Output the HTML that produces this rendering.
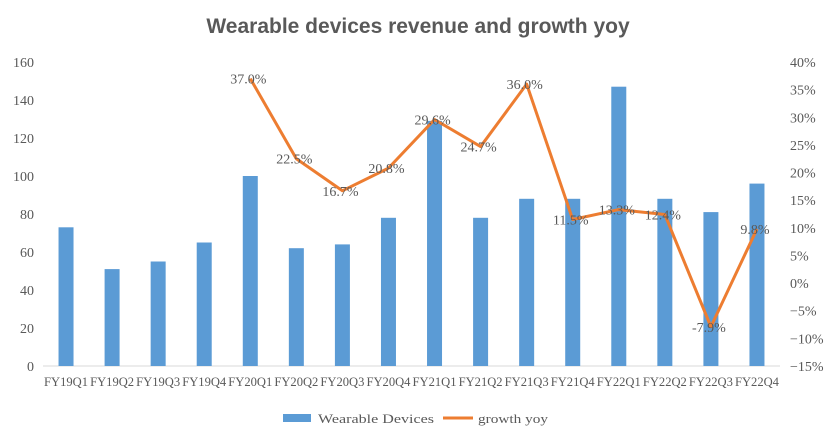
<!DOCTYPE html>
<html><head><meta charset="utf-8"><style>
body{margin:0;background:#fff;}
svg text{font-family:"Liberation Serif","Noto Serif CJK SC",serif;fill:#595959;}
</style></head><body>
<svg width="830" height="441" xmlns="http://www.w3.org/2000/svg">
<text x="418" y="33" text-anchor="middle" style="font-family:'Liberation Sans',sans-serif;font-weight:bold;font-size:21px;fill:#595959">Wearable devices revenue and growth yoy</text>
<g id="g"></g>
</svg>
<script>
const categories=["FY19Q1","FY19Q2","FY19Q3","FY19Q4","FY20Q1","FY20Q2","FY20Q3","FY20Q4","FY21Q1","FY21Q2","FY21Q3","FY21Q4","FY22Q1","FY22Q2","FY22Q3","FY22Q4"];
const revenue=[73,51,55,65,100,62,64,78,129,78,88,88,147,88,81,96];
const growth=[null,null,null,null,37.0,22.5,16.7,20.8,29.6,24.7,36.0,11.5,13.3,12.4,-7.9,9.8];
const leftTicks=[0,20,40,60,80,100,120,140,160];
const rightTicks=[40,35,30,25,20,15,10,5,0,-5,-10,-15];
const NS="http://www.w3.org/2000/svg",g=document.getElementById('g');
const yTop=62,bot=366,x0=43,x1=780;
const yL=v=>bot-v/160*(bot-yTop);
const yR=v=>yTop+(40-v)/55*(bot-yTop);
const step=(x1-x0)/categories.length;
const xC=i=>x0+step*(i+0.5);
function el(t,a,txt){const e=document.createElementNS(NS,t);for(const k in a)e.setAttribute(k,a[k]);if(txt!=null)e.textContent=txt;g.appendChild(e);return e;}
let e=el('line',{x1:x0,x2:x1,y1:bot,y2:bot,stroke:'#d9d9d9','stroke-width':1});


leftTicks.forEach(v=>{const t=el('text',{x:34,y:yL(v)+5,'text-anchor':'end','font-size':14},v);

});
rightTicks.forEach(v=>{const t=el('text',{x:790,y:yR(v)+5,'font-size':14},(v<0?'\u2212':'')+Math.abs(v)+'%');

});
categories.forEach((c,i)=>{
const b=el('rect',{x:xC(i)-7.5,y:yL(revenue[i]),width:15,height:bot-yL(revenue[i]),fill:'#5b9bd5'});


const t=el('text',{x:xC(i),y:386,'text-anchor':'middle','font-size':13,textLength:44,lengthAdjust:'spacingAndGlyphs'},c);

});
let pts=[];growth.forEach((v,i)=>{if(v!=null)pts.push(xC(i)+','+yR(v));});
const pl=el('polyline',{points:pts.join(' '),fill:'none',stroke:'#ed7d31','stroke-width':3,'stroke-linejoin':'round'});


growth.forEach((v,i)=>{if(v==null)return;
const t=el('text',{x:xC(i)-2,y:yR(v)+5,'text-anchor':'middle','font-size':14},v.toFixed(1)+'%');

});
const ls=el('rect',{x:283,y:414,width:28,height:8,fill:'#5b9bd5'});


const lt=el('text',{x:318,y:423,'font-size':13,textLength:116,lengthAdjust:'spacingAndGlyphs'},'Wearable Devices');


const ll=el('line',{x1:443,x2:473,y1:418,y2:418,stroke:'#ed7d31','stroke-width':3});


const lt2=el('text',{x:478,y:423,'font-size':13,textLength:70,lengthAdjust:'spacingAndGlyphs'},'growth yoy');


</script>
</body></html>
